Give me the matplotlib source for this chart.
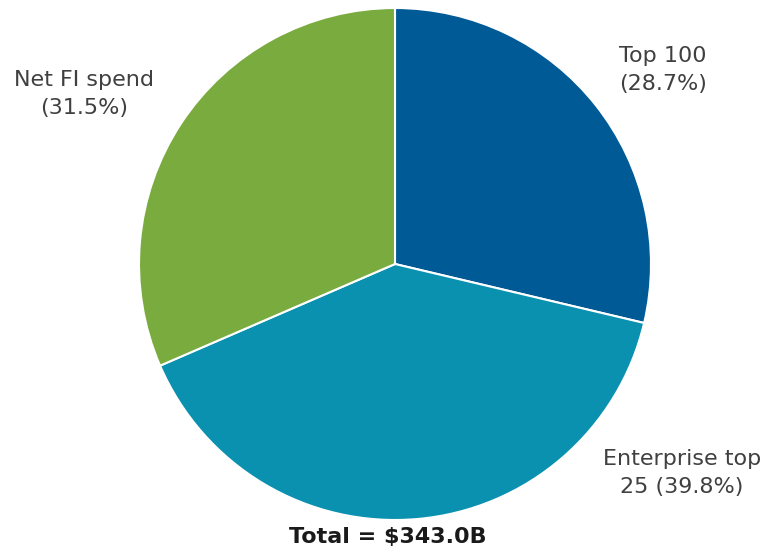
import matplotlib
matplotlib.use("Agg")
import matplotlib.pyplot as plt

categories = ["Top 100", "Enterprise top 25", "Net FI spend"]
shares = [28.7, 39.8, 31.5]
label_texts = ["Top 100\n(28.7%)", "Enterprise top\n25 (39.8%)", "Net FI spend\n(31.5%)"]
colors = ["#005a96", "#0a91b0", "#7aab3e"]
total_text = "Total = $343.0B"

W, H = 768, 555
fig = plt.figure(figsize=(W / 100, H / 100), dpi=100)
ax = fig.add_axes([0, 0, 1, 1])

cx, cy, r = 395, H - 264, 256
ax.pie(shares, colors=colors, startangle=90, counterclock=False,
       center=(cx, cy), radius=r, frame=True,
       wedgeprops=dict(edgecolor="white", linewidth=1.5))
ax.set_xlim(0, W)
ax.set_ylim(0, H)
ax.set_aspect("equal")
ax.axis("off")

txt = dict(fontsize=16, color="#404040", ha="center", va="center", linespacing=1.5)
ax.text(663, H - 70, label_texts[0], **txt)
ax.text(682, H - 473, label_texts[1], **txt)
ax.text(84, H - 94, label_texts[2], **txt)
ax.text(388, H - 537, total_text, fontsize=16, fontweight="bold", color="#1a1a1a",
        ha="center", va="center")

fig.savefig("out.png", dpi=100)
